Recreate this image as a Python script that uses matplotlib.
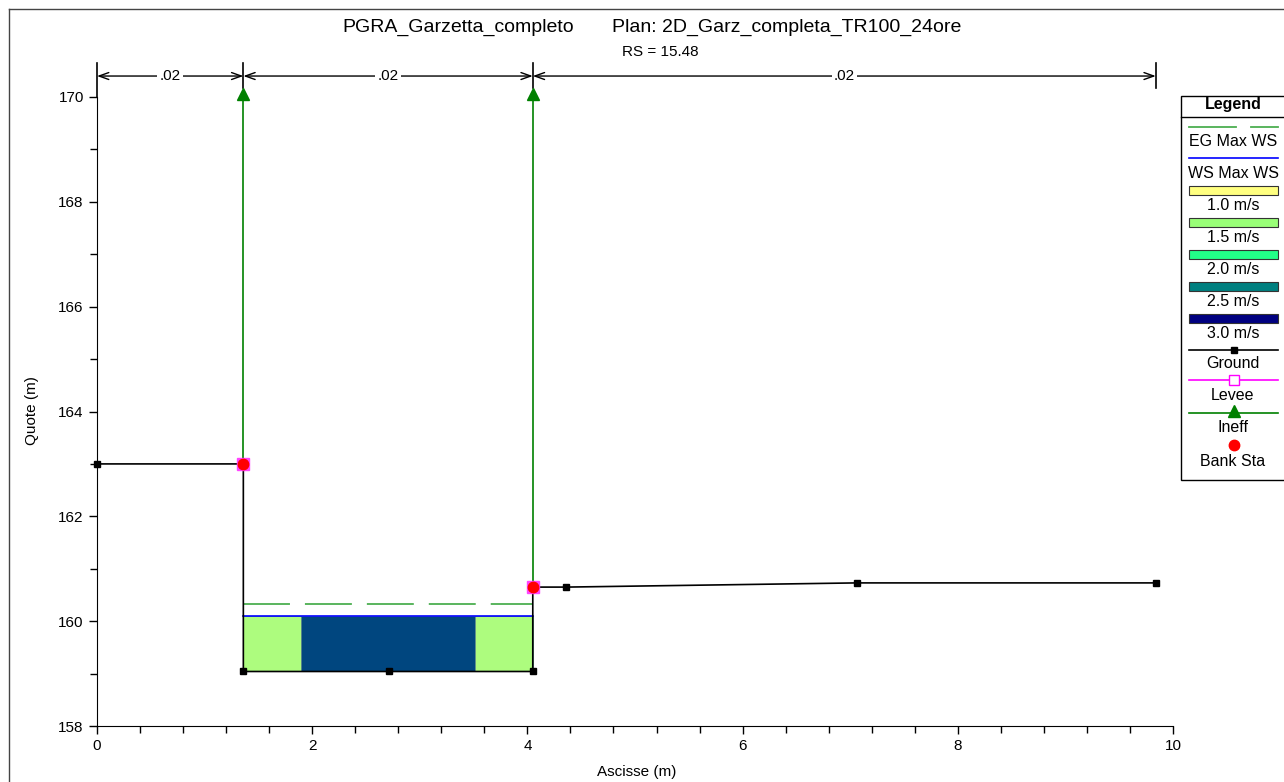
import numpy as np
import matplotlib
matplotlib.use("Agg")
import matplotlib.pyplot as plt
from matplotlib.patches import Rectangle

plt.rcParams['font.family'] = ['Liberation Sans', 'DejaVu Sans']

# --- data ---
ground_x = [0.0, 1.36, 1.36, 2.71, 4.05, 4.05, 4.36, 7.06, 9.84]
ground_y = [163.0, 163.0, 159.04, 159.04, 159.04, 160.65, 160.65, 160.73, 160.73]
bank_x = [1.36, 4.05]
bank_y = [163.0, 160.65]
ineff_x = [1.36, 4.05]
ineff_top = 170.06
ws_elev = 160.10
eg_elev = 160.33
vel_breaks = [1.36, 1.90, 3.51, 4.05]
vel_colors = ['#adfc7e', '#00467f', '#adfc7e']
n_breaks = [0.0, 1.36, 4.05, 9.84]
n_values = ['.02', '.02', '.02']

legend_speeds = ['1.0 m/s', '1.5 m/s', '2.0 m/s', '2.5 m/s', '3.0 m/s']
legend_speed_colors = ['#ffff80', '#99ff77', '#22ff88', '#008080', '#000080']

W, H = 1284, 782
fig = plt.figure(figsize=(W / 100, H / 100), dpi=100)
ax = fig.add_axes([97 / W, 1 - 726 / H, (1173 - 97) / W, (726 - 97) / H])

# velocity distribution fill
bed = min(ground_y)
for i, c in enumerate(vel_colors):
    ax.fill_between([vel_breaks[i], vel_breaks[i + 1]], bed, ws_elev,
                    color=c, linewidth=0.6, edgecolor='#5a8a8a', zorder=1)

# water surface / energy grade
ax.plot([vel_breaks[0], vel_breaks[-1]], [ws_elev, ws_elev], color='#0000ff', lw=1.2, zorder=3)
eg, = ax.plot([vel_breaks[0], vel_breaks[-1]], [eg_elev, eg_elev], color='#4caf50', lw=1.3, zorder=3)
eg.set_dashes((26, 8.3))

# ineffective flow
for x, yb in zip(ineff_x, bank_y):
    ax.plot([x, x], [yb, ineff_top], color='#008000', lw=1.2, zorder=2, clip_on=False)
    ax.plot([x], [ineff_top], marker='^', color='#008000', ms=9, zorder=4, clip_on=False)

# ground
ax.plot(ground_x, ground_y, color='black', lw=1.2, zorder=4)
ax.plot(ground_x, ground_y, 's', color='black', ms=5, zorder=5, clip_on=False)

# bank stations
ax.plot(bank_x, bank_y, 's', color='#ff44ff', ms=9, zorder=6)
ax.plot(bank_x, bank_y, 'o', color='#ff0000', ms=7.5, zorder=7)

# roughness dimension line above the plot
y_dim, y_top, y_bot = 170.40, 170.65, 170.17
for i, x in enumerate(n_breaks):
    ax.plot([x, x], [y_top, 170.0 if i == 0 else y_bot], color='black', lw=1.2, clip_on=False)
for i, lab in enumerate(n_values):
    x0, x1 = n_breaks[i], n_breaks[i + 1]
    ax.annotate('', xy=(x1, y_dim), xytext=(x0, y_dim), annotation_clip=False,
                arrowprops=dict(arrowstyle='<->,head_length=0.7,head_width=0.25',
                                color='black', lw=1.0, shrinkA=0, shrinkB=0))
    ax.text((x0 + x1) / 2, y_dim, lab, ha='center', va='center', fontsize=11,
            bbox=dict(facecolor='white', edgecolor='none', pad=1.5), clip_on=False)

ax.set_xlim(0, 10)
ax.set_ylim(158, 170)
ax.set_xticks(np.arange(0, 10.1, 2))
ax.set_xticks(np.arange(0, 10.01, 0.4), minor=True)
ax.set_yticks(np.arange(158, 170.1, 2))
ax.set_yticks(np.arange(158, 170.1, 1), minor=True)
ax.tick_params(direction='out', length=6, width=1, labelsize=11, colors='black')
ax.tick_params(which='minor', direction='out', length=5, width=1)
ax.spines['top'].set_visible(False)
ax.spines['right'].set_visible(False)
ax.spines['left'].set_bounds(158, 170)

# titles and axis labels
fig.text(458 / W, 1 - 27 / H, 'PGRA_Garzetta_completo', ha='center', va='center', fontsize=14)
fig.text(612 / W, 1 - 27 / H, 'Plan: 2D_Garz_completa_TR100_24ore', ha='left', va='center', fontsize=14)
fig.text(660 / W, 1 - 52 / H, 'RS = 15.48', ha='center', va='center', fontsize=11)
fig.text(637 / W, 1 - 772 / H, 'Ascisse (m)', ha='center', va='center', fontsize=11)
fig.text(32 / W, 1 - 411 / H, 'Quote (m)', ha='center', va='center', fontsize=11, rotation=90)

# overlay in pixel coordinates for frame and legend
ov = fig.add_axes([0, 0, 1, 1], facecolor='none')
ov.set_xlim(0, W)
ov.set_ylim(H, 0)
ov.axis('off')
ov.plot([9, W + 5], [9, 9], color='#444444', lw=1)
ov.plot([9, 9], [9, H + 5], color='#444444', lw=1)

# legend box
lx0, lx1, cx = 1181, 1300, 1233
fs = 11.5
ov.add_patch(Rectangle((lx0, 96), lx1 - lx0, 384, facecolor='white', edgecolor='black', lw=1, clip_on=False))
ov.plot([lx0, lx1], [117, 117], color='black', lw=1, clip_on=False)
ov.text(cx, 105, 'Legend', ha='center', va='center', fontsize=11.5, fontweight='bold')
ov.plot([1189, 1236], [127, 127], color='#4caf50', lw=1.3)
ov.plot([1251, 1278], [127, 127], color='#4caf50', lw=1.3)
ov.text(cx, 142, 'EG Max WS', ha='center', va='center', fontsize=fs)
ov.plot([1189, 1278], [158, 158], color='#0000ff', lw=1.2)
ov.text(cx, 174, 'WS Max WS', ha='center', va='center', fontsize=fs)
for i, (lab, c) in enumerate(zip(legend_speeds, legend_speed_colors)):
    yb = 186 + i * 32
    ov.add_patch(Rectangle((1189, yb), 89, 9, facecolor=c, edgecolor='#333333', lw=0.8))
    ov.text(cx, yb + 19, lab, ha='center', va='center', fontsize=fs)
ov.plot([1189, 1278], [350, 350], color='black', lw=1.2)
ov.plot([1234], [350], 's', color='black', ms=5)
ov.text(cx, 364, 'Ground', ha='center', va='center', fontsize=fs)
ov.plot([1189, 1278], [380, 380], color='#ff00ff', lw=1.2)
ov.plot([1234], [380], 's', mfc='white', mec='#ff00ff', ms=7, mew=1)
ov.text(cx, 396, 'Levee', ha='center', va='center', fontsize=fs)
ov.plot([1189, 1278], [413, 413], color='#008000', lw=1.2)
ov.plot([1234], [411], '^', color='#008000', ms=9)
ov.text(cx, 428, 'Ineff', ha='center', va='center', fontsize=fs)
ov.plot([1234], [445], 'o', color='#ff0000', ms=7.5)
ov.text(cx, 461, 'Bank Sta', ha='center', va='center', fontsize=fs)

fig.savefig('out.png', dpi=100)
